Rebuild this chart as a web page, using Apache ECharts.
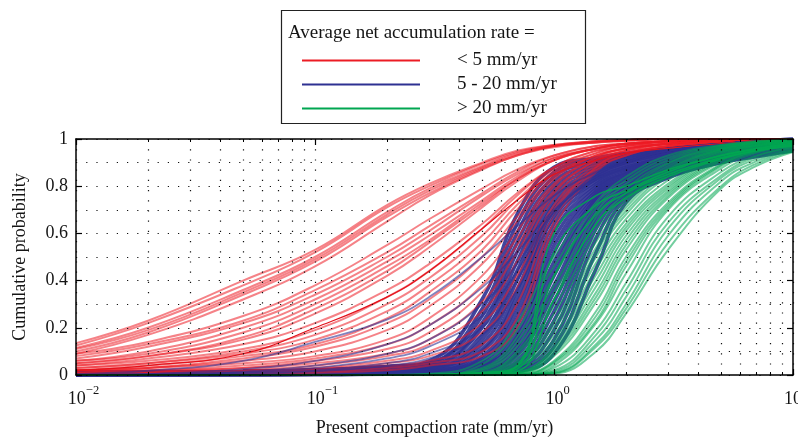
<!DOCTYPE html>
<html><head><meta charset="utf-8">
<script src="https://cdn.jsdelivr.net/npm/echarts@6/dist/echarts.min.js"></script>
<style>html,body{margin:0;padding:0;background:#fff}#c{width:798px;height:441px}</style>
</head><body><div id="c"></div>
<script>
// x sample points (mm/yr) at which each cumulative curve was read
const xs = [0.01,0.02,0.05,0.1,0.2,0.3,0.5,0.7,1,1.5,2,3,5,7,10];

// < 5 mm/yr
const redCurves = [
 [0.135,0.23,0.40,0.53,0.72,0.81,0.90,0.95,0.975,0.99,0.995,1,1,1,1],
 [0.125,0.22,0.38,0.52,0.71,0.80,0.895,0.945,0.975,0.99,0.995,1,1,1,1],
 [0.115,0.20,0.36,0.50,0.69,0.79,0.885,0.94,0.97,0.99,0.995,1,1,1,1],
 [0.11,0.19,0.35,0.49,0.68,0.78,0.88,0.935,0.97,0.985,0.995,1,1,1,1],
 [0.10,0.18,0.34,0.48,0.67,0.77,0.875,0.93,0.97,0.985,0.995,1,1,1,1],
 [0.09,0.17,0.32,0.46,0.65,0.76,0.87,0.93,0.965,0.985,0.99,1,1,1,1],
 [0.09,0.14,0.25,0.38,0.55,0.66,0.79,0.87,0.93,0.97,0.98,0.99,1,1,1],
 [0.08,0.13,0.23,0.36,0.52,0.63,0.77,0.86,0.93,0.97,0.98,0.99,1,1,1],
 [0.07,0.12,0.22,0.34,0.50,0.61,0.76,0.85,0.92,0.96,0.98,0.99,1,1,1],
 [0.06,0.10,0.20,0.32,0.48,0.59,0.74,0.84,0.92,0.96,0.98,0.99,1,1,1],
 [0.06,0.09,0.18,0.30,0.46,0.57,0.73,0.83,0.91,0.96,0.98,0.99,0.995,1,1],
 [0.05,0.08,0.16,0.28,0.44,0.56,0.72,0.83,0.91,0.96,0.98,0.99,1,1,1],
 [0.05,0.08,0.15,0.26,0.42,0.54,0.71,0.82,0.91,0.96,0.98,0.99,1,1,1],
 [0.04,0.07,0.13,0.22,0.36,0.47,0.64,0.77,0.88,0.95,0.97,0.99,1,1,1],
 [0.04,0.06,0.11,0.19,0.33,0.44,0.62,0.76,0.88,0.95,0.97,0.99,1,1,1],
 [0.03,0.05,0.10,0.17,0.30,0.41,0.59,0.74,0.87,0.94,0.97,0.99,1,1,1],
 [0.03,0.05,0.09,0.15,0.27,0.38,0.56,0.72,0.86,0.94,0.97,0.98,0.995,1,1],
 [0.02,0.04,0.08,0.13,0.24,0.35,0.53,0.70,0.85,0.93,0.96,0.98,0.995,1,1],
 [0.02,0.03,0.07,0.12,0.22,0.32,0.50,0.67,0.84,0.93,0.96,0.98,0.99,1,1],
 [0.02,0.03,0.06,0.10,0.19,0.29,0.47,0.65,0.83,0.93,0.96,0.98,0.99,1,1],
 [0.02,0.03,0.05,0.08,0.15,0.24,0.42,0.61,0.81,0.92,0.96,0.98,0.99,1,1],
 [0.01,0.02,0.04,0.07,0.13,0.21,0.38,0.58,0.80,0.92,0.96,0.98,0.99,1,1],
 [0.01,0.02,0.03,0.06,0.11,0.18,0.35,0.55,0.78,0.91,0.95,0.98,0.99,1,1],
 [0.01,0.015,0.03,0.05,0.09,0.15,0.31,0.52,0.77,0.91,0.95,0.98,0.99,1,1],
 [0.01,0.01,0.02,0.04,0.08,0.13,0.27,0.48,0.75,0.90,0.95,0.98,0.99,1,1],
 [0.005,0.01,0.02,0.03,0.06,0.10,0.22,0.42,0.72,0.89,0.94,0.97,0.99,1,1],
 [0.005,0.01,0.015,0.025,0.05,0.08,0.18,0.37,0.70,0.88,0.94,0.97,0.99,1,1],
 [0,0.005,0.01,0.02,0.04,0.06,0.13,0.30,0.68,0.88,0.94,0.97,0.99,1,1],
 [0,0,0.01,0.015,0.03,0.05,0.10,0.24,0.65,0.87,0.93,0.97,0.99,1,1],
 [0,0,0.005,0.01,0.02,0.04,0.08,0.20,0.62,0.86,0.93,0.97,0.99,1,1]
];
const redDark = [
 [0.02,0.04,0.09,0.20,0.33,0.44,0.62,0.74,0.85,0.91,0.94,0.96,0.98,0.99,0.995]
];

// 5 - 20 mm/yr
const blueSteep = [
 [0.01,0.012,0.015,0.02,0.035,0.06,0.32,0.68,0.88,0.92,0.94,0.96,0.98,0.99,1],
 [0.01,0.012,0.015,0.02,0.035,0.05,0.28,0.64,0.86,0.91,0.935,0.96,0.98,0.99,1],
 [0.01,0.012,0.015,0.02,0.035,0.05,0.25,0.60,0.84,0.90,0.93,0.955,0.975,0.985,0.995],
 [0.01,0.012,0.015,0.02,0.03,0.04,0.22,0.56,0.82,0.89,0.925,0.95,0.975,0.985,0.995],
 [0.01,0.012,0.015,0.02,0.03,0.04,0.20,0.52,0.80,0.88,0.92,0.95,0.97,0.98,0.99],
 [0.01,0.012,0.015,0.02,0.03,0.035,0.17,0.48,0.78,0.87,0.91,0.945,0.97,0.98,0.99],
 [0.01,0.012,0.015,0.02,0.025,0.03,0.15,0.44,0.76,0.86,0.905,0.94,0.965,0.98,0.99],
 [0.01,0.012,0.015,0.02,0.025,0.03,0.13,0.40,0.74,0.85,0.90,0.935,0.965,0.975,0.99],
 [0.01,0.012,0.015,0.02,0.022,0.025,0.11,0.36,0.72,0.84,0.89,0.93,0.96,0.975,0.985],
 [0.01,0.012,0.015,0.018,0.02,0.02,0.10,0.33,0.70,0.83,0.88,0.925,0.96,0.97,0.985],
 [0.005,0.008,0.01,0.012,0.018,0.02,0.08,0.30,0.67,0.82,0.875,0.92,0.955,0.97,0.985],
 [0.005,0.008,0.01,0.012,0.018,0.02,0.07,0.27,0.64,0.81,0.87,0.915,0.95,0.965,0.98],
 [0.005,0.008,0.01,0.012,0.015,0.015,0.06,0.24,0.61,0.80,0.86,0.91,0.95,0.965,0.98],
 [0.005,0.008,0.01,0.012,0.015,0.015,0.05,0.21,0.58,0.79,0.855,0.905,0.945,0.96,0.98],
 [0.005,0.008,0.01,0.012,0.012,0.012,0.045,0.18,0.55,0.78,0.85,0.90,0.94,0.96,0.975],
 [0.005,0.008,0.01,0.01,0.01,0.01,0.04,0.16,0.52,0.77,0.84,0.895,0.94,0.955,0.975],
 [0.005,0.006,0.008,0.01,0.01,0.01,0.035,0.14,0.48,0.76,0.835,0.89,0.935,0.955,0.97],
 [0.005,0.006,0.008,0.01,0.01,0.01,0.03,0.12,0.45,0.75,0.83,0.885,0.93,0.95,0.97],
 [0.003,0.005,0.006,0.008,0.01,0.01,0.025,0.10,0.42,0.74,0.82,0.88,0.93,0.95,0.97],
 [0.003,0.005,0.006,0.008,0.008,0.008,0.02,0.09,0.38,0.72,0.81,0.875,0.925,0.945,0.965],
 [0,0.003,0.005,0.006,0.008,0.008,0.02,0.08,0.35,0.71,0.80,0.87,0.92,0.945,0.965],
 [0,0.003,0.005,0.006,0.006,0.006,0.015,0.06,0.31,0.69,0.79,0.865,0.92,0.94,0.96],
 [0,0.003,0.005,0.006,0.006,0.006,0.015,0.05,0.27,0.67,0.78,0.86,0.915,0.94,0.96],
 [0,0,0.003,0.004,0.005,0.005,0.01,0.04,0.23,0.65,0.775,0.855,0.91,0.935,0.96],
 [0,0,0.003,0.004,0.005,0.005,0.01,0.03,0.19,0.62,0.77,0.85,0.91,0.935,0.955],
 [0,0,0,0.003,0.004,0.004,0.01,0.025,0.15,0.58,0.76,0.845,0.905,0.93,0.955],
 [0,0,0,0.003,0.004,0.004,0.005,0.02,0.12,0.52,0.75,0.84,0.90,0.93,0.95],
 [0,0,0,0,0.003,0.003,0.005,0.015,0.09,0.45,0.73,0.835,0.90,0.925,0.95]
];
const blueEarly = [
 [0.005,0.018,0.06,0.14,0.235,0.33,0.50,0.63,0.76,0.86,0.90,0.94,0.97,0.98,0.99],
 [0,0.005,0.025,0.06,0.13,0.21,0.37,0.52,0.70,0.83,0.89,0.94,0.97,0.98,0.99],
 [0,0.005,0.015,0.04,0.09,0.15,0.30,0.47,0.69,0.84,0.90,0.95,0.97,0.985,0.99],
 [0,0,0.01,0.03,0.07,0.12,0.25,0.44,0.69,0.85,0.91,0.95,0.975,0.985,0.99],
 [0,0,0.01,0.02,0.05,0.09,0.20,0.40,0.68,0.84,0.90,0.95,0.975,0.985,0.99],
 [0,0,0.005,0.015,0.04,0.07,0.17,0.36,0.66,0.83,0.90,0.95,0.97,0.985,0.99]
];

// > 20 mm/yr
const greenCurves = [
 [0,0,0,0,0,0.005,0.06,0.22,0.50,0.73,0.84,0.93,0.975,0.99,1],
 [0,0,0,0,0,0,0.045,0.19,0.46,0.71,0.825,0.92,0.972,0.988,0.998],
 [0,0,0,0,0,0,0.03,0.16,0.42,0.69,0.81,0.91,0.97,0.987,0.998],
 [0,0,0,0,0,0,0.025,0.14,0.38,0.665,0.79,0.90,0.966,0.985,0.996],
 [0,0,0,0,0,0,0.02,0.12,0.35,0.64,0.77,0.895,0.963,0.984,0.995],
 [0,0,0,0,0,0,0.012,0.10,0.32,0.615,0.755,0.885,0.96,0.982,0.994],
 [0,0,0,0,0,0,0.008,0.09,0.29,0.59,0.74,0.875,0.957,0.98,0.992],
 [0,0,0,0,0,0,0.006,0.075,0.26,0.565,0.725,0.868,0.955,0.978,0.991],
 [0,0,0,0,0,0,0.005,0.06,0.23,0.54,0.71,0.86,0.952,0.975,0.99],
 [0,0,0,0,0,0,0.004,0.05,0.21,0.52,0.695,0.85,0.948,0.973,0.989],
 [0,0,0,0,0,0,0.003,0.04,0.19,0.50,0.68,0.84,0.945,0.972,0.988],
 [0,0,0,0,0,0,0.002,0.035,0.17,0.475,0.66,0.825,0.94,0.97,0.987],
 [0,0,0,0,0,0,0,0.03,0.15,0.45,0.64,0.81,0.935,0.968,0.986],
 [0,0,0,0,0,0,0,0.02,0.135,0.425,0.625,0.80,0.93,0.965,0.985],
 [0,0,0,0,0,0,0,0.012,0.12,0.40,0.61,0.79,0.926,0.962,0.985],
 [0,0,0,0,0,0,0,0.01,0.11,0.375,0.59,0.78,0.92,0.96,0.983],
 [0,0,0,0,0,0,0,0.008,0.10,0.35,0.57,0.77,0.915,0.957,0.982],
 [0,0,0,0,0,0,0,0.006,0.09,0.33,0.55,0.76,0.91,0.955,0.98],
 [0,0,0,0,0,0,0,0.005,0.08,0.31,0.53,0.75,0.905,0.953,0.978],
 [0,0,0,0,0,0,0,0.003,0.06,0.27,0.50,0.73,0.895,0.95,0.975],
 [0,0,0,0,0,0,0,0.002,0.055,0.25,0.48,0.72,0.89,0.948,0.974],
 [0,0,0,0,0,0,0,0,0.05,0.23,0.46,0.71,0.885,0.945,0.972],
 [0,0,0,0,0,0,0,0,0.04,0.22,0.43,0.70,0.875,0.94,0.97],
 [0,0,0,0,0,0,0,0,0.03,0.19,0.39,0.67,0.86,0.93,0.965],
 [0,0,0,0,0,0,0,0,0.02,0.17,0.36,0.645,0.845,0.925,0.962],
 [0,0,0,0,0,0,0,0,0.015,0.15,0.33,0.62,0.835,0.915,0.957],
 [0,0,0,0,0,0,0,0,0.01,0.13,0.30,0.59,0.82,0.905,0.952],
 [0,0,0,0,0,0,0,0,0.008,0.12,0.28,0.56,0.80,0.895,0.948],
 [0,0,0,0,0,0,0,0,0.005,0.10,0.26,0.53,0.79,0.885,0.945]
];
const greenDark = [
 [0,0,0,0,0,0.003,0.01,0.04,0.60,0.76,0.80,0.87,0.93,0.96,0.98],
 [0,0,0,0,0,0,0.008,0.035,0.52,0.72,0.78,0.86,0.93,0.955,0.975],
 [0,0,0,0,0,0,0.006,0.025,0.42,0.68,0.77,0.85,0.92,0.95,0.975],
 [0,0,0,0,0,0,0.004,0.015,0.32,0.64,0.75,0.84,0.915,0.95,0.97]
];

const legendTitle = 'Average net accumulation rate =';
const legendNames = ['< 5 mm/yr', '5 - 20 mm/yr', '> 20 mm/yr'];
const xMinorTicks = [0.02,0.03,0.04,0.05,0.06,0.07,0.08,0.09,0.2,0.3,0.4,0.5,0.6,0.7,0.8,0.9,2,3,4,5,6,7,8,9];
const xTickExp = {0.01:'−2', 0.1:'−1', 1:'0', 10:''};

const RED = '#ec1c24', BLUE = '#2e3192', GREEN = '#00a651';
const SERIF = '"Liberation Serif", "DejaVu Serif", serif';
const TXT = '#151515';

const series = [];
function add(list, name, color, width, opacity, z) {
  list.forEach(ys => series.push({
    type: 'line', name: name, xAxisIndex: 0, yAxisIndex: 0,
    data: xs.map((x, i) => [x, ys[i]]),
    showSymbol: false, symbol: 'none', smooth: 0.45,
    itemStyle: { color: color },
    lineStyle: { color: color, width: width, opacity: opacity },
    z: z, silent: true, animation: false
  }));
}
add(blueSteep, legendNames[1], BLUE, 3.6, 0.9, 2);
add(redCurves, legendNames[0], RED, 2, 0.55, 3);
add(redDark, legendNames[0], '#e3121b', 1.2, 1, 3);
add(blueEarly, legendNames[1], BLUE, 1.8, 0.6, 4);
add(greenCurves, legendNames[2], GREEN, 2, 0.55, 5);
add(greenDark, legendNames[2], GREEN, 1.6, 0.9, 5);

const dotted = { color: '#111', width: 1.2, type: [1.2, 9] };
const frame = { color: '#000', width: 1.5 };
const gridBox = { left: 76, top: 139, width: 717, height: 236, containLabel: false, outerBoundsMode: 'none' };

const chart = echarts.init(document.getElementById('c'), null, { renderer: 'canvas' });
chart.setOption({
  animation: false,
  backgroundColor: '#fff',
  grid: [Object.assign({}, gridBox), Object.assign({}, gridBox)],
  xAxis: [
    { gridIndex: 0, type: 'log', logBase: 10, min: 0.01, max: 10, position: 'bottom', z: 10,
      axisLine: { show: true, onZero: false, lineStyle: frame },
      axisTick: { show: true, inside: true, length: 6, lineStyle: { color: '#000', width: 1.2 } },
      minorTick: { show: false },
      splitLine: { show: true, lineStyle: dotted },
      axisLabel: { margin: 9, color: TXT, fontFamily: SERIF, fontSize: 18,
        formatter: v => {
          const e = xTickExp[v];
          if (e === undefined || e === '') return '{b|10}';
          return '{p' + (e.length > 1 ? 'w' : 'n') + '|}{b|10}{s|' + e + '}';
        },
        rich: {
          b: { fontSize: 18, fontFamily: SERIF, color: TXT, lineHeight: 24, verticalAlign: 'bottom' },
          s: { fontSize: 12.5, fontFamily: SERIF, color: TXT, lineHeight: 13, verticalAlign: 'top' },
          pw: { width: 15, lineHeight: 24 },
          pn: { width: 7, lineHeight: 24 }
        }
      },
      name: 'Present compaction rate (mm/yr)', nameLocation: 'middle', nameGap: 44,
      nameTextStyle: { fontFamily: SERIF, fontSize: 18, color: TXT }
    },
    { gridIndex: 0, type: 'log', logBase: 10, min: 0.01, max: 10, position: 'top', z: 10,
      axisLine: { show: true, onZero: false, lineStyle: frame },
      axisTick: { show: true, inside: true, length: 6, lineStyle: { color: '#000', width: 1.2 } },
      minorTick: { show: false }, splitLine: { show: false }, axisLabel: { show: false }
    },
    { gridIndex: 1, type: 'log', logBase: 10, min: 0.01, max: 10, position: 'bottom', z: 10,
      axisLine: { show: false },
      axisTick: { show: true, inside: true, length: 3, customValues: xMinorTicks, lineStyle: { color: '#000', width: 1 } },
      minorTick: { show: false }, splitLine: { show: true, lineStyle: dotted }, axisLabel: { show: false }
    },
    { gridIndex: 1, type: 'log', logBase: 10, min: 0.01, max: 10, position: 'top', z: 10,
      axisLine: { show: false },
      axisTick: { show: true, inside: true, length: 3, customValues: xMinorTicks, lineStyle: { color: '#000', width: 1 } },
      minorTick: { show: false }, splitLine: { show: false }, axisLabel: { show: false }
    }
  ],
  yAxis: [
    { gridIndex: 0, type: 'value', min: 0, max: 1, interval: 0.2, position: 'left', z: 10,
      axisLine: { show: true, onZero: false, lineStyle: frame },
      axisTick: { show: true, inside: true, length: 6, lineStyle: { color: '#000', width: 1.2 } },
      axisLabel: { margin: 8, color: TXT, fontFamily: SERIF, fontSize: 18 },
      splitLine: { show: true, lineStyle: dotted },
      minorTick: { show: false, splitNumber: 2 },
      minorSplitLine: { show: true, lineStyle: dotted },
      name: 'Cumulative probability', nameLocation: 'middle', nameGap: 47,
      nameTextStyle: { fontFamily: SERIF, fontSize: 18, color: TXT }
    },
    { gridIndex: 0, type: 'value', min: 0, max: 1, interval: 0.2, position: 'right', z: 10,
      axisLine: { show: true, onZero: false, lineStyle: frame },
      axisTick: { show: true, inside: true, length: 6, lineStyle: { color: '#000', width: 1.2 } },
      axisLabel: { show: false }, splitLine: { show: false }
    },
    { gridIndex: 1, type: 'value', min: 0, max: 1, show: false }
  ],
  legend: {
    data: legendNames, orient: 'vertical', left: 302, top: 51, padding: 0,
    icon: 'rect', itemWidth: 118, itemHeight: 2, itemGap: 5, selectedMode: false,
    textStyle: { fontSize: 19, fontFamily: SERIF, color: TXT, padding: [0, 0, 0, 32] },
    z: 10
  },
  graphic: [
    { type: 'rect', shape: { x: 281.5, y: 10.5, width: 304, height: 113 },
      style: { fill: '#fff', stroke: '#222', lineWidth: 1.2 }, z: 1 },
    { type: 'text', x: 288, y: 33,
      style: { text: legendTitle, fontSize: 19, fontFamily: SERIF, fill: TXT, verticalAlign: 'middle' }, z: 2 }
  ],
  series: series
});
</script>
</body></html>
